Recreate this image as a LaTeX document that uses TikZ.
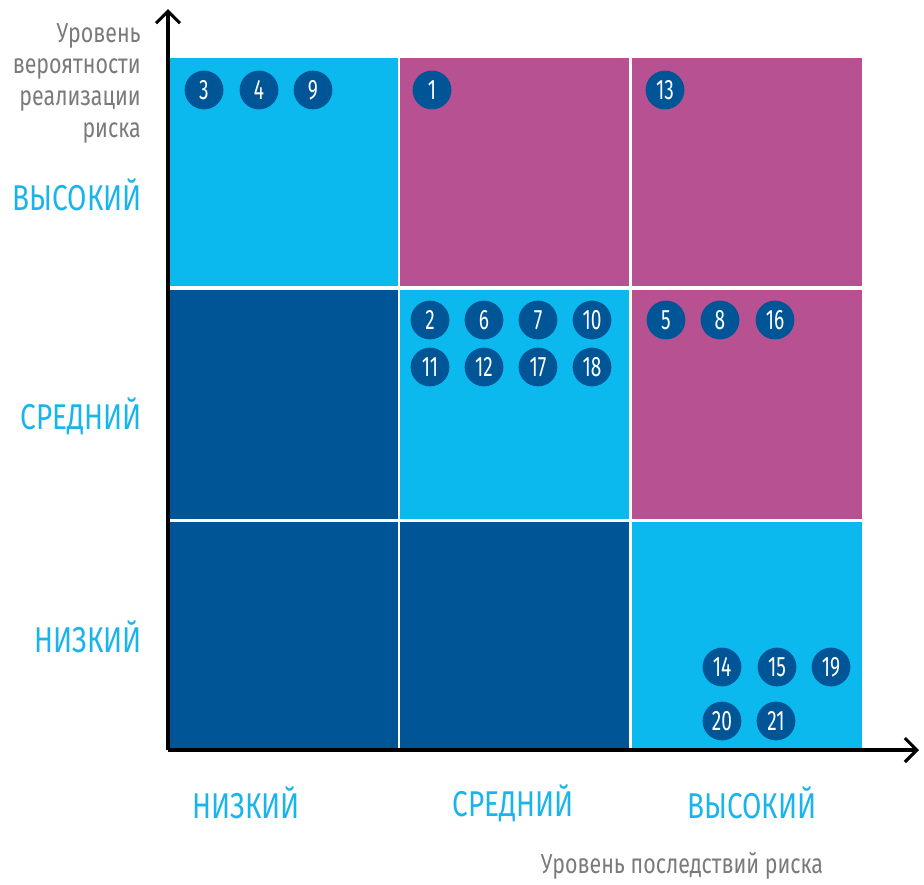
\documentclass[tikz,border=0pt]{standalone}
\usepackage{fontspec}
\setmainfont{Fira Sans}
\newfontfamily\condfont[FakeStretch=0.78]{Fira Sans}
\newfontfamily\numfont[FakeStretch=0.68]{Fira Sans}
\usepackage{tikz}
\usetikzlibrary{arrows.meta,positioning}
\definecolor{lightblue}{HTML}{0CB9EE}
\definecolor{riskpink}{HTML}{B85192}
\definecolor{darkblue}{HTML}{005596}
\definecolor{labelblue}{HTML}{1AB4EC}
\definecolor{greytext}{HTML}{7A7A7A}
\tikzset{
  cell/.style={rectangle,inner sep=0pt,minimum width=5.7cm,minimum height=5.7cm},
  risk/.style={circle,fill=darkblue,inner sep=0pt,minimum size=0.97cm,text=white,
    font=\numfont\fontsize{20}{20}\selectfont},
  level/.style={text=labelblue,inner sep=0pt,font=\condfont\fontsize{25.5}{25.5}\selectfont},
  axistext/.style={text=greytext,inner sep=0pt,font=\condfont\fontsize{19.5}{22.5}\selectfont},
  axis/.style={line width=2.8pt,-{Straight Barb[length=0.3cm,width=0.6cm,line width=2.2pt]}}
}
\begin{document}
\begin{tikzpicture}[x=0.025cm,y=-0.025cm]
  \useasboundingbox (0,0) rectangle (924,884);
 %the risk matrix
  %cells, top row = high probability
    \node[cell,fill=lightblue] (c13) at (283.5,172) {};
    \node[cell,fill=riskpink]  (c23) at (514.5,172) {};
    \node[cell,fill=riskpink,minimum width=5.75cm]  (c33) at (747,172) {};
    \node[cell,fill=darkblue]  (c12) at (283.5,404.5) {};
    \node[cell,fill=lightblue] (c22) at (514.5,404.5) {};
    \node[cell,fill=riskpink,minimum width=5.75cm]  (c32) at (747,404.5) {};
    \node[cell,fill=darkblue]  (c11) at (283.5,636) {};
    \node[cell,fill=darkblue]  (c21) at (514.5,636) {};
    \node[cell,fill=lightblue,minimum width=5.75cm] (c31) at (747,636) {};
  %axes
    \coordinate (o) at (168,750);
    \coordinate (ytip) at (168,9);
    \coordinate (xtip) at (919,750);
    \draw[axis] (o.center) -- (ytip);
    \draw[axis] (o.center) -- (xtip);
  %risks
    \foreach \n/\x/\y in {3/204/90,4/259/90,9/313/90,1/432/90,13/665/90,
        2/430/320,6/484/320,7/538/320,10/592/320,
        11/430/367,12/484/367,17/538/367,18/592/367,
        5/666/320,8/720/320,16/775/320,
        14/722/667,15/777/667,19/831/667,20/722/721,21/776/721}
      \node[risk] (r\n) at (\x,\y) {\n};
  %levels
    \node[level,anchor=east] (yhigh) at (142,195) {ВЫСОКИЙ};
    \node[level,anchor=east] (ymid) at (142,416) {СРЕДНИЙ};
    \node[level,anchor=east] (ylow) at (142,637) {НИЗКИЙ};
    \node[level] (xlow) at (246,803) {НИЗКИЙ};
    \node[level] (xmid) at (513,803) {СРЕДНИЙ};
    \node[level] (xhigh) at (752,803) {ВЫСОКИЙ};
  %axis titles
    \node[axistext,anchor=north east,align=right] (ytitle) at (141,23)
      {Уровень\\вероятности\\реализации\\риска};
    \node[axistext] (xtitle) at (682,866) {Уровень последствий риска};
\end{tikzpicture}
\end{document}
